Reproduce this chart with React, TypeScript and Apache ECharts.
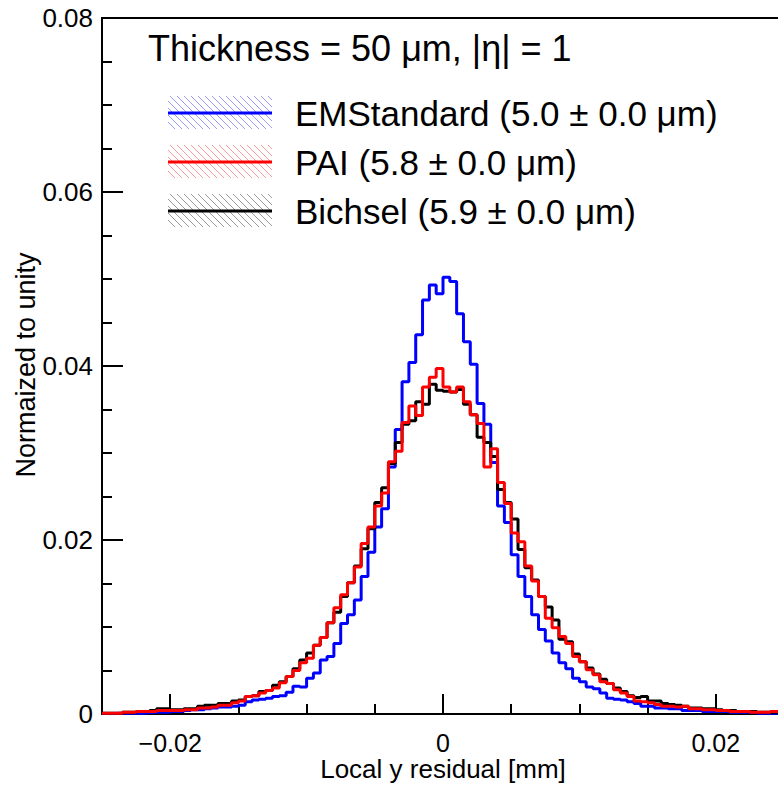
import React, { useEffect, useRef } from 'react';
import * as echarts from 'echarts';

const X_MIN = -0.025;
const X_MAX = 0.025;
const BIN_WIDTH = 0.0005;

// EMStandard (blue), 100 bins from -0.025 to 0.025 mm
const emStandard = [
  0.00005, 0.00005, 0.0001, 0.0001, 0.0001, 0.0001, 0.00015, 0.0002, 0.0002, 0.0002,
  0.0003, 0.0003, 0.0004, 0.0005, 0.0005, 0.0006, 0.0007, 0.0008, 0.0008, 0.0009,
  0.0010, 0.0014, 0.0016, 0.0017, 0.0018, 0.0020, 0.0021, 0.0025, 0.0032, 0.0031,
  0.0041, 0.0047, 0.0062, 0.0066, 0.0081, 0.0104, 0.0114, 0.0131, 0.0158, 0.0186,
  0.0215, 0.0236, 0.0284, 0.0327, 0.0382, 0.0404, 0.0436, 0.0476, 0.0493, 0.0483,
  0.0502, 0.0497, 0.0460, 0.0428, 0.0402, 0.0357, 0.0333, 0.0289, 0.0239, 0.0220,
  0.0183, 0.0158, 0.0135, 0.0114, 0.0097, 0.0084, 0.0070, 0.0059, 0.0052, 0.0041,
  0.0037, 0.0031, 0.0029, 0.0024, 0.0018, 0.0017, 0.0016, 0.0014, 0.0012, 0.0009,
  0.0009, 0.0007, 0.0007, 0.0006, 0.0006, 0.0004, 0.0004, 0.0004, 0.0003, 0.0003,
  0.0003, 0.0003, 0.0002, 0.0002, 0.0002, 0.0002, 0.0001, 0.0001, 0.0001, 0.0001,
];

// PAI (red)
const pai = [
  0.0001, 0.0001, 0.0001, 0.0002, 0.0002, 0.0003, 0.0003, 0.0003, 0.0004, 0.0004,
  0.0004, 0.0004, 0.0005, 0.0005, 0.0007, 0.0007, 0.0008, 0.0010, 0.0010, 0.0013,
  0.0015, 0.0020, 0.0021, 0.0024, 0.0027, 0.0030, 0.0036, 0.0043, 0.0050, 0.0059,
  0.0064, 0.0079, 0.0088, 0.0105, 0.0122, 0.0137, 0.0151, 0.0169, 0.0196, 0.0215,
  0.0239, 0.0254, 0.0290, 0.0302, 0.0335, 0.0354, 0.0343, 0.0376, 0.0387, 0.0397,
  0.0376, 0.0370, 0.0376, 0.0359, 0.0344, 0.0334, 0.0284, 0.0305, 0.0266, 0.0242,
  0.0208, 0.0198, 0.0170, 0.0153, 0.0135, 0.0110, 0.0099, 0.0089, 0.0081, 0.0066,
  0.0060, 0.0051, 0.0045, 0.0037, 0.0035, 0.0028, 0.0024, 0.0020, 0.0015, 0.0014,
  0.0013, 0.0011, 0.0009, 0.0009, 0.0008, 0.0009, 0.0006, 0.0006, 0.0005, 0.0005,
  0.0004, 0.0004, 0.0003, 0.0003, 0.0003, 0.0002, 0.0002, 0.0002, 0.0003, 0.0003,
];

// Bichsel (black)
const bichsel = [
  0.0001, 0.0001, 0.0001, 0.0002, 0.0002, 0.0003, 0.0003, 0.0004, 0.0006, 0.0006,
  0.0005, 0.0005, 0.0006, 0.0006, 0.0009, 0.0010, 0.0010, 0.0012, 0.0012, 0.0015,
  0.0016, 0.0020, 0.0021, 0.0026, 0.0027, 0.0033, 0.0037, 0.0043, 0.0052, 0.0062,
  0.0070, 0.0079, 0.0088, 0.0105, 0.0117, 0.0135, 0.0151, 0.0170, 0.0190, 0.0213,
  0.0243, 0.0260, 0.0288, 0.0312, 0.0333, 0.0337, 0.0359, 0.0356, 0.0379, 0.0372,
  0.0371, 0.0370, 0.0373, 0.0356, 0.0344, 0.0318, 0.0312, 0.0296, 0.0258, 0.0243,
  0.0224, 0.0189, 0.0168, 0.0154, 0.0135, 0.0123, 0.0108, 0.0086, 0.0083, 0.0069,
  0.0060, 0.0053, 0.0046, 0.0040, 0.0035, 0.0030, 0.0026, 0.0021, 0.0019, 0.0020,
  0.0015, 0.0015, 0.0012, 0.0011, 0.0010, 0.0009, 0.0007, 0.0007, 0.0006, 0.0006,
  0.0005, 0.0004, 0.0004, 0.0003, 0.0003, 0.0003, 0.0002, 0.0002, 0.0002, 0.0002,
];

const xMajorTicks = [-0.02, 0, 0.02];
const xMinorTicks = [-0.025, -0.015, -0.01, -0.005, 0.005, 0.01, 0.015, 0.025];
const Y_MAX = 0.08;
const Y_INTERVAL = 0.02;

const legendTitle = 'Thickness = 50 \u03bcm, |\u03b7| = 1';
const seriesNames = [
  'EMStandard (5.0 \u00b1 0.0 \u03bcm)',
  'PAI (5.8 \u00b1 0.0 \u03bcm)',
  'Bichsel (5.9 \u00b1 0.0 \u03bcm)',
];
const xTitle = 'Local y residual [mm]';
const yTitle = 'Normaized to unity';

const FONT = '"Liberation Sans", Arial, Helvetica, sans-serif';

function toSteps(values: number[]) {
  const pts: number[][] = values.map((v, i) => [X_MIN + i * BIN_WIDTH, v]);
  pts.push([X_MAX, values[values.length - 1]]);
  return pts;
}

function hatch(x0: number, y0: number, x1: number, y1: number, color: string, step: number) {
  const out: any[] = [];
  for (let c = x0 - y1; c <= x1 - y0; c += step) {
    const ya = Math.max(y0, x0 - c);
    const yb = Math.min(y1, x1 - c);
    if (yb > ya) {
      out.push({
        type: 'line',
        silent: true,
        shape: { x1: ya + c, y1: ya, x2: yb + c, y2: yb },
        style: { stroke: color, lineWidth: 1 },
      });
    }
  }
  return out;
}

export default function App() {
  const ref = useRef<HTMLDivElement>(null);

  useEffect(() => {
    if (!ref.current) return;
    const chart = echarts.init(ref.current, undefined, { renderer: 'svg' });

    const colors = ['#0000ff', '#ff0000', '#000000'];
    const hatchColors = ['#9a9aff', '#ff9a9a', '#9a9a9a'];
    const rowsY = [113, 162, 211];

    const legendGraphics: any[] = [];
    rowsY.forEach((y, i) => {
      legendGraphics.push(...hatch(168, y - 17, 272, y + 16, hatchColors[i], 7));
      legendGraphics.push({
        type: 'line',
        silent: true,
        shape: { x1: 168, y1: y, x2: 272, y2: y },
        style: { stroke: colors[i], lineWidth: 3 },
      });
      legendGraphics.push({
        type: 'text',
        x: 295,
        y: y,
        style: {
          text: seriesNames[i],
          font: `35px ${FONT}`,
          fill: '#000',
          textAlign: 'left',
          textVerticalAlign: 'middle',
        },
      });
    });

    const fmtX = (v: number) => {
      if (Math.abs(v) < 1e-9) return '0';
      return (v < 0 ? '\u2212' : '') + Math.abs(v).toFixed(2);
    };

    const option: any = {
      animation: false,
      backgroundColor: '#ffffff',
      grid: [
        { left: 102, top: 18, width: 682, height: 696, show: true, borderColor: '#000', borderWidth: 2, backgroundColor: 'transparent' },
        { left: 102, top: 18, width: 682, height: 696, show: false },
      ],
      xAxis: [
        {
          type: 'value',
          gridIndex: 0,
          min: X_MIN,
          max: X_MAX,
          position: 'bottom',
          axisLine: { show: true, onZero: false, lineStyle: { color: '#000', width: 2 } },
          axisTick: { show: true, inside: true, length: 20, customValues: xMajorTicks, lineStyle: { color: '#000', width: 2 } },
          axisLabel: { show: true, customValues: xMajorTicks, formatter: fmtX, fontSize: 25, lineHeight: 25, fontFamily: FONT, color: '#000', margin: 16 },
          splitLine: { show: false },
        },
        {
          type: 'value',
          gridIndex: 1,
          min: X_MIN,
          max: X_MAX,
          position: 'bottom',
          axisLine: { show: false, onZero: false },
          axisTick: { show: true, inside: true, length: 10, customValues: xMinorTicks, lineStyle: { color: '#000', width: 2 } },
          axisLabel: { show: false },
          splitLine: { show: false },
        },
      ],
      yAxis: [
        {
          type: 'value',
          gridIndex: 0,
          min: 0,
          max: Y_MAX,
          interval: Y_INTERVAL,
          axisLine: { show: true, onZero: false, lineStyle: { color: '#000', width: 2 } },
          axisTick: { show: true, inside: true, length: 21, lineStyle: { color: '#000', width: 2 } },
          minorTick: { show: true, splitNumber: 4, length: 10, lineStyle: { color: '#000', width: 2 } },
          axisLabel: {
            fontSize: 26,
            fontFamily: FONT,
            color: '#000',
            margin: 9,
            formatter: (v: number) => (v === 0 ? '0' : v.toFixed(2)),
          },
          splitLine: { show: false },
        },
        { type: 'value', gridIndex: 1, min: 0, max: Y_MAX, show: false },
      ],
      series: [
        { name: seriesNames[0], data: toSteps(emStandard), color: colors[0] },
        { name: seriesNames[2], data: toSteps(bichsel), color: colors[2] },
        { name: seriesNames[1], data: toSteps(pai), color: colors[1] },
      ].map((s) => ({
        type: 'line',
        xAxisIndex: 0,
        yAxisIndex: 0,
        step: 'end',
        showSymbol: false,
        symbol: 'none',
        clip: true,
        name: s.name,
        data: s.data,
        lineStyle: { color: s.color, width: 3 },
        itemStyle: { color: s.color },
      })),
      graphic: [
        {
          type: 'text',
          x: 148,
          y: 48,
          style: { text: legendTitle, font: `36px ${FONT}`, fill: '#000', textAlign: 'left', textVerticalAlign: 'middle' },
        },
        ...legendGraphics,
        {
          type: 'text',
          x: 443,
          y: 769,
          style: { text: xTitle, font: `26px ${FONT}`, lineHeight: 26, fill: '#000', textAlign: 'center', textVerticalAlign: 'middle' },
        },
        {
          type: 'text',
          x: 26,
          y: 365,
          rotation: Math.PI / 2,
          style: { text: yTitle, font: `27px ${FONT}`, fill: '#000', textAlign: 'center', textVerticalAlign: 'middle' },
        },
      ],
    };

    chart.setOption(option);
    return () => chart.dispose();
  }, []);

  return (
    <div style={{ position: 'absolute', left: 0, top: 0, width: 778, height: 786, overflow: 'hidden', background: '#fff' }}>
      <div ref={ref} style={{ width: 800, height: 786 }} />
    </div>
  );
}
